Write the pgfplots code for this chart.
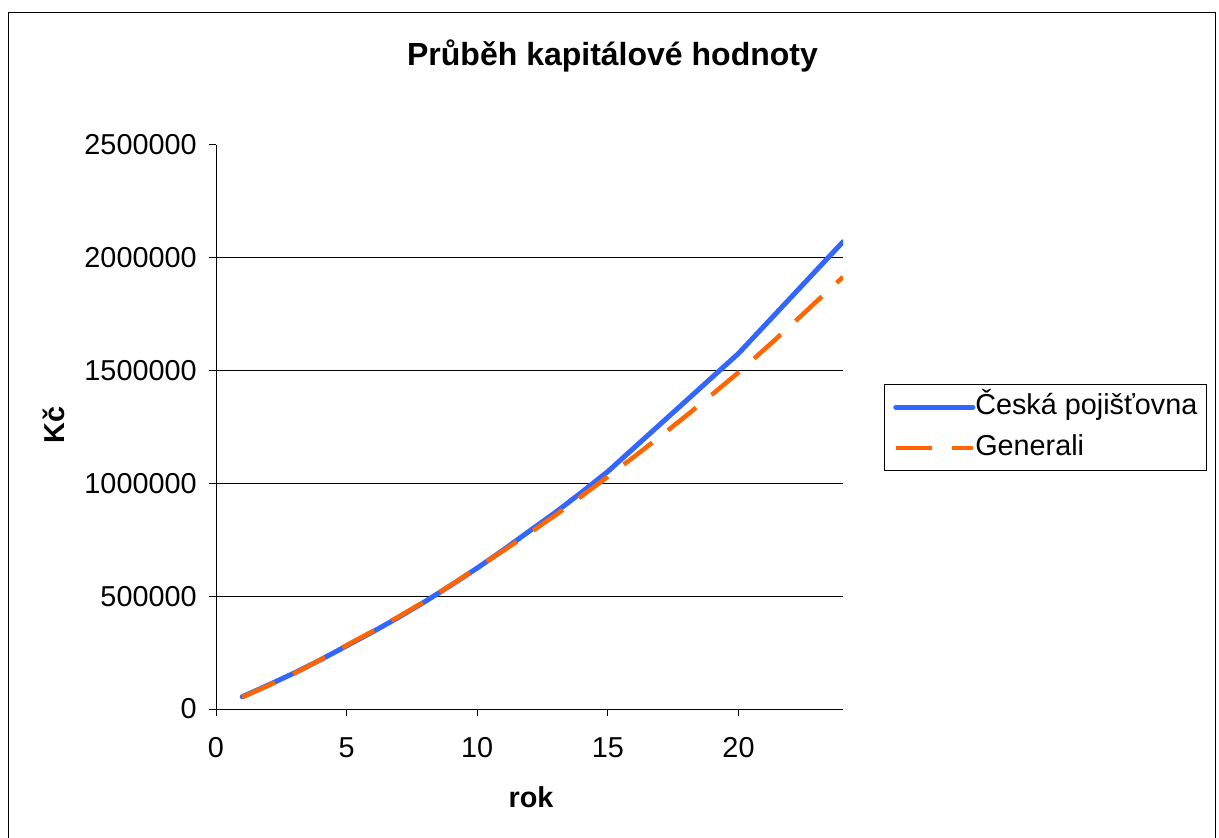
\documentclass[border=0pt]{standalone}
\usepackage{pgfplots}
\pgfplotsset{compat=1.18}
\usepackage{fontspec}
\setmainfont{Liberation Sans}
\definecolor{cpblue}{RGB}{51,102,255}
\definecolor{genorange}{RGB}{255,102,0}
\newcommand{\chartfont}{\fontsize{14.4bp}{17bp}\selectfont}
\newcommand{\titlefont}{\fontsize{16bp}{19bp}\selectfont}
\begin{document}
\begin{tikzpicture}
\useasboundingbox (0,0) rectangle (609.5bp,419bp);
\fill[white] (0,0) rectangle (609.5bp,419bp);
\begin{axis}[
  at={(108bp,64.5bp)}, anchor=south west,
  scale only axis, width=313.5bp, height=282bp,
  xmin=0, xmax=24, ymin=0, ymax=2500000,
  axis lines*=left, axis line style={-, black, line width=0.5bp},
  xtick={0,5,10,15,20},
  ytick={0,500000,1000000,1500000,2000000,2500000},
  extra y ticks={500000,1000000,1500000,2000000},
  extra y tick labels={},
  extra y tick style={grid=major},
  grid style={black, line width=0.5bp},
  tick align=outside, major tick length=3.5bp,
  tick style={black, line width=0.5bp},
  scaled y ticks=false,
  /pgf/number format/fixed,
  /pgf/number format/precision=0,
  /pgf/number format/1000 sep={},
  /pgf/number format/assume math mode=true,
  tick label style={font=\chartfont, inner sep=0pt},
  yticklabel style={xshift=-6bp},
  xticklabel style={yshift=-10.5bp},
  legend style={at={(axis description cs:1.065,0.576)}, anchor=north west,
    draw=black, line width=0.5bp, font=\chartfont, inner xsep=4.5bp, inner ysep=4.5bp,
    row sep=7bp, nodes={inner sep=0pt, text height=10.5bp, text depth=3bp}},
  legend cell align=left,
  legend image code/.code={\draw[#1] (0bp,0bp) -- (38.5bp,0bp);},
  every axis legend/.append style={/tikz/every even column/.append style={column sep=2.5bp}},
  clip=true,
]
\addplot[cpblue, line width=2.5bp, line cap=round, line join=round] coordinates {
(1,54000) (2,106000) (3,160000) (4,218000) (5,280000) (6,342000) (7,407000)
(8,476000) (9,549000) (10,625000) (11,705000) (12,789000) (13,872000)
(14,961000) (15,1053000) (20,1576000) (24,2071000)
};
\addlegendentry{Česká pojišťovna}
\addplot[genorange, line width=2.25bp, dash pattern=on 18bp off 10bp] coordinates {
(1,52000) (2,104000) (3,158000) (4,218000) (5,283000) (6,345000) (7,410000)
(8,478000) (9,550000) (10,626000) (11,702000) (12,780000) (13,860000)
(14,944000) (15,1030000) (16,1118000) (17,1208000) (18,1300000) (19,1395000)
(20,1492000) (21,1595000) (22,1700000) (23,1808000) (24,1915000)
};
\addlegendentry{Generali}
\end{axis}
\node[anchor=base, font=\titlefont\bfseries, inner sep=0pt] at (306.25bp,386bp) {Průběh kapitálové hodnoty};
\node[anchor=base, font=\chartfont\bfseries, inner sep=0pt] at (265.5bp,15.5bp) {rok};
\node[rotate=90, font=\chartfont\bfseries, inner sep=0pt] at (27bp,206.5bp) {Kč};
\draw[black, line width=0.75bp] (4.25bp,-1bp) -- (4.25bp,412.75bp) -- (607.75bp,412.75bp) -- (607.75bp,-1bp);
\end{tikzpicture}
\end{document}
